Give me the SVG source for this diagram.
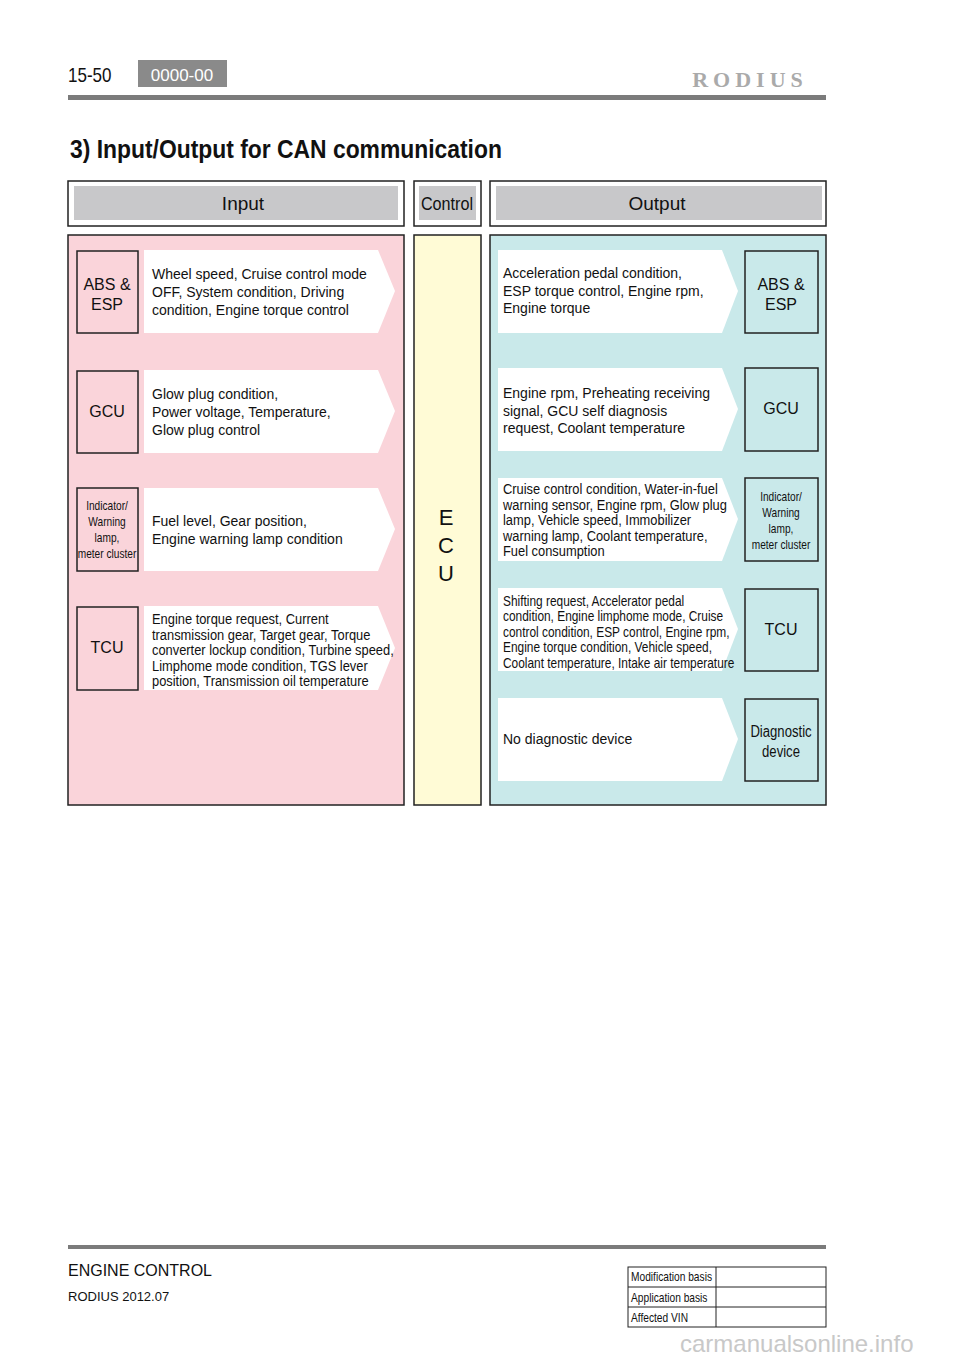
<svg xmlns="http://www.w3.org/2000/svg" width="960" height="1358" viewBox="0 0 960 1358">
<style>
text{font-family:"Liberation Sans",Arial,sans-serif;fill:#111}
.t{font-size:14px}
.dev{fill:none;stroke:#222;stroke-width:1.5}
.arr{fill:#fff}
.hb{fill:#fff;stroke:#222;stroke-width:1.5}
.hg{fill:#c8c8ca}
.h{font-size:19px;text-anchor:middle}
.c{text-anchor:middle}
</style>
<rect width="960" height="1358" fill="#fff"/>
<g id="header">
<text x="68" y="82" font-size="20" transform="translate(68,0) scale(0.85,1) translate(-68,0)">15-50</text>
<rect x="138" y="60" width="89" height="27" fill="#8a8a8a"/>
<text x="182" y="81" font-size="17" class="c" style="fill:#fff">0000-00</text>
<text x="750" y="87" font-size="22" font-weight="bold" class="c" style="fill:#aaa;font-family:'Liberation Serif',serif;letter-spacing:5px">RODIUS</text>
<rect x="68" y="95" width="758" height="5" fill="#7b7b7b"/>
<text x="70" y="158" font-size="25" font-weight="bold" transform="translate(70,0) scale(0.915,1) translate(-70,0)">3) Input/Output for CAN communication</text>
</g>
<g id="col-headers">
<rect class="hb" x="68" y="181" width="336" height="45"/><rect class="hg" x="74" y="186" width="324" height="34"/>
<text class="h" x="243" y="210">Input</text>
<rect class="hb" x="414" y="181" width="67" height="45"/><rect class="hg" x="419" y="186" width="57" height="34"/>
<text class="h" x="447" y="210" transform="translate(447,0) scale(0.85,1) translate(-447,0)">Control</text>
<rect class="hb" x="490" y="181" width="336" height="45"/><rect class="hg" x="496" y="186" width="326" height="34"/>
<text class="h" x="657" y="210">Output</text>
</g>
<g id="panels">
<rect x="68" y="235" width="336" height="570" fill="#fad4da" stroke="#222" stroke-width="1.5"/>
<rect x="414" y="235" width="67" height="570" fill="#fffbd6" stroke="#222" stroke-width="1.5"/>
<rect x="490" y="235" width="336" height="570" fill="#c9e9ea" stroke="#222" stroke-width="1.5"/>
</g>
<g id="ecu">
<text x="446" y="525" font-size="22" class="c">E</text>
<text x="446" y="553" font-size="22" class="c">C</text>
<text x="446" y="581" font-size="22" class="c">U</text>
</g>
<g id="in-abs">
<rect class="dev" x="77" y="251" width="61" height="82"/>
<text class="c" x="107" y="290" font-size="16">ABS &amp;</text><text class="c" x="107" y="310" font-size="16">ESP</text>
<polygon class="arr" points="144,250 378,250 395,291 378,333 144,333"/>
<text class="t" x="152" y="279">Wheel speed, Cruise control mode</text>
<text class="t" x="152" y="297">OFF, System condition, Driving</text>
<text class="t" x="152" y="315">condition, Engine torque control</text>
</g>
<g id="in-gcu">
<rect class="dev" x="77" y="371" width="61" height="82"/>
<text class="c" x="107" y="417" font-size="16">GCU</text>
<polygon class="arr" points="144,370 378,370 395,411 378,453 144,453"/>
<text class="t" x="152" y="399">Glow plug condition,</text>
<text class="t" x="152" y="417">Power voltage, Temperature,</text>
<text class="t" x="152" y="435">Glow plug control</text>
</g>
<g id="in-ind">
<rect class="dev" x="77" y="488" width="61" height="83"/>
<g transform="translate(107,0) scale(0.78,1)">
<text class="c" x="0" y="510" font-size="13">Indicator/</text><text class="c" x="0" y="526" font-size="13">Warning</text>
<text class="c" x="0" y="542" font-size="13">lamp,</text><text class="c" x="0" y="558" font-size="13">meter cluster</text></g>
<polygon class="arr" points="144,488 378,488 395,529 378,571 144,571"/>
<text class="t" x="152" y="526">Fuel level, Gear position,</text>
<text class="t" x="152" y="544">Engine warning lamp condition</text>
</g>
<g id="in-tcu">
<rect class="dev" x="77" y="607" width="61" height="83"/>
<text class="c" x="107" y="653" font-size="16">TCU</text>
<polygon class="arr" points="144,606 378,606 395,648 378,690 144,690"/>
<g transform="translate(152,0) scale(0.92,1)" font-size="14">
<text x="0" y="624">Engine torque request, Current</text>
<text x="0" y="640">transmission gear, Target gear, Torque</text>
<text x="0" y="655">converter lockup condition, Turbine speed,</text>
<text x="0" y="671">Limphome mode condition, TGS lever</text>
<text x="0" y="686">position, Transmission oil temperature</text></g>
</g>
<g id="out-abs">
<polygon class="arr" points="498,250 722,250 738,291 722,333 498,333"/>
<text class="t" x="503" y="278">Acceleration pedal condition,</text>
<text class="t" x="503" y="296">ESP torque control, Engine rpm,</text>
<text class="t" x="503" y="313">Engine torque</text>
<rect class="dev" x="745" y="251" width="73" height="82"/>
<text class="c" x="781" y="290" font-size="16">ABS &amp;</text><text class="c" x="781" y="310" font-size="16">ESP</text>
</g>
<g id="out-gcu">
<polygon class="arr" points="498,368 722,368 738,409 722,451 498,451"/>
<text class="t" x="503" y="398">Engine rpm, Preheating receiving</text>
<text class="t" x="503" y="416">signal, GCU self diagnosis</text>
<text class="t" x="503" y="433">request, Coolant temperature</text>
<rect class="dev" x="745" y="368" width="73" height="83"/>
<text class="c" x="781" y="414" font-size="16">GCU</text>
</g>
<g id="out-ind">
<polygon class="arr" points="498,478 722,478 738,519 722,561 498,561"/>
<g transform="translate(503,0) scale(0.92,1)" font-size="14">
<text x="0" y="494">Cruise control condition, Water-in-fuel</text>
<text x="0" y="510">warning sensor, Engine rpm, Glow plug</text>
<text x="0" y="525">lamp, Vehicle speed, Immobilizer</text>
<text x="0" y="541">warning lamp, Coolant temperature,</text>
<text x="0" y="556">Fuel consumption</text></g>
<rect class="dev" x="745" y="478" width="73" height="83"/>
<g transform="translate(781,0) scale(0.78,1)">
<text class="c" x="0" y="501" font-size="13">Indicator/</text><text class="c" x="0" y="517" font-size="13">Warning</text>
<text class="c" x="0" y="533" font-size="13">lamp,</text><text class="c" x="0" y="549" font-size="13">meter cluster</text></g>
</g>
<g id="out-tcu">
<polygon class="arr" points="498,588 722,588 738,629 722,671 498,671"/>
<g transform="translate(503,0) scale(0.85,1)" font-size="14">
<text x="0" y="606">Shifting request, Accelerator pedal</text>
<text x="0" y="621">condition, Engine limphome mode, Cruise</text>
<text x="0" y="637">control condition, ESP control, Engine rpm,</text>
<text x="0" y="652">Engine torque condition, Vehicle speed,</text>
<text x="0" y="668">Coolant temperature, Intake air temperature</text></g>
<rect class="dev" x="745" y="589" width="73" height="82"/>
<text class="c" x="781" y="635" font-size="16">TCU</text>
</g>
<g id="out-diag">
<polygon class="arr" points="498,698 722,698 738,739 722,781 498,781"/>
<text class="t" x="503" y="744">No diagnostic device</text>
<rect class="dev" x="745" y="699" width="73" height="82"/>
<g transform="translate(781,0) scale(0.82,1)">
<text class="c" x="0" y="737" font-size="16">Diagnostic</text><text class="c" x="0" y="757" font-size="16">device</text></g>
</g>
<g id="connectors"></g>
<g id="footer">
<rect x="68" y="1245" width="758" height="4" fill="#7b7b7b"/>
<text x="68" y="1276" font-size="16">ENGINE CONTROL</text>
<text x="68" y="1301" font-size="13">RODIUS 2012.07</text>
<g fill="none" stroke="#222" stroke-width="1">
<rect x="628" y="1267" width="198" height="60"/>
<line x1="628" y1="1287" x2="826" y2="1287"/><line x1="628" y1="1307" x2="826" y2="1307"/>
<line x1="716" y1="1267" x2="716" y2="1327"/></g>
<g transform="translate(631,0) scale(0.85,1)" font-size="12">
<text x="0" y="1281">Modification basis</text><text x="0" y="1302">Application basis</text><text x="0" y="1322">Affected VIN</text></g>
<text x="680" y="1352" font-size="24" style="fill:#c8c8c8">carmanualsonline.info</text>
</g>
</svg>
